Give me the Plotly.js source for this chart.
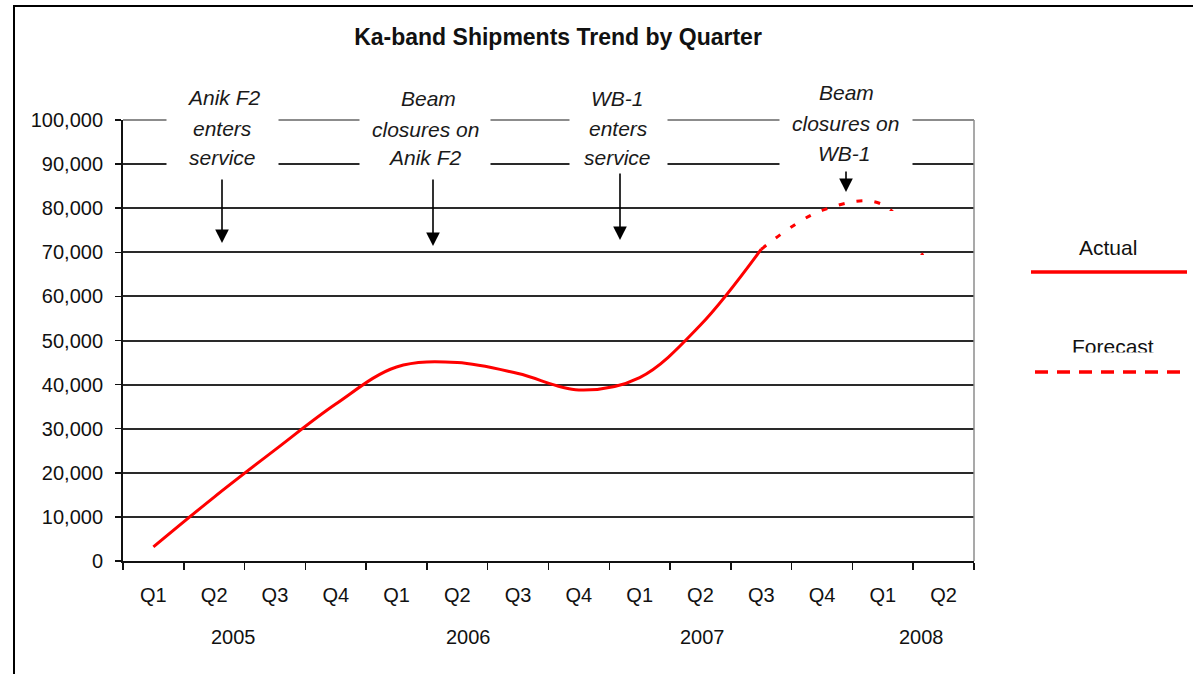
<!DOCTYPE html>
<html>
<head>
<meta charset="utf-8">
<script src="https://cdn.plot.ly/plotly-3.0.1.min.js"></script>
<style>html,body{margin:0;padding:0;background:#fff;}#chart{width:1193px;height:674px;}</style>
</head>
<body>
<div id="chart"></div>
<script>
// ---- data ----
const categories = ["Q1 2005","Q2 2005","Q3 2005","Q4 2005","Q1 2006","Q2 2006","Q3 2006","Q4 2006","Q1 2007","Q2 2007","Q3 2007","Q4 2007","Q1 2008","Q2 2008"];
const quarterLabels = ["Q1","Q2","Q3","Q4","Q1","Q2","Q3","Q4","Q1","Q2","Q3","Q4","Q1","Q2"];
const years = ["2005","2006","2007","2008"];
const actualCats = categories.slice(0, 11);
const actualValues = [3200, 14500, 25200, 35600, 44000, 45000, 42500, 38800, 41600, 53500, 70700];
const forecastCats = categories.slice(10);
const forecastValues = [70700, 79500, 80800, 59500];
const eventNotes = [
  ["Anik F2", "enters", "service"],
  ["Beam", "closures on", "Anik F2"],
  ["WB-1", "enters", "service"],
  ["Beam", "closures on", "WB-1"]
];
const legendNames = ["Actual", "Forecast"];

// ---- layout helpers (pixel -> paper) ----
const W = 1193, H = 674;
const M = {l: 123, r: 219, t: 120, b: 113};
const PW = W - M.l - M.r, PH = H - M.t - M.b;
const px = x => (x - M.l) / PW;
const py = y => (H - M.b - y) / PH;
const FONT = "Liberation Sans, Arial, sans-serif";
const RED = "#ff0000";

const traces = [
  {x: actualCats, y: actualValues, type: "scatter", mode: "lines", name: legendNames[0],
   line: {color: RED, width: 3, shape: "spline", smoothing: 1}, hoverinfo: "x+y"},
  {x: forecastCats, y: forecastValues, type: "scatter", mode: "lines", name: legendNames[1],
   line: {color: RED, width: 3, shape: "spline", smoothing: 1, dash: "6px,12px"}, hoverinfo: "x+y"}
];

const annotations = [];
const noteGeom = [
  {cx: [224, 222.5, 222], w: 111, ys: [97, 128, 157]},
  {cx: [428, 425, 425], w: 130, ys: [99, 129, 158]},
  {cx: [617, 618, 617.5], w: 97, ys: [98, 128, 157]},
  {cx: [846, 845, 844], w: 132, ys: [92, 123, 153]}
];
const gapCenters = [222.5, 425, 618, 846];
eventNotes.forEach((lines, i) => {
  const g = noteGeom[i];
  lines.forEach((t, j) => {
    annotations.push({xref: "paper", yref: "paper", x: px(gapCenters[i]), y: py(g.ys[j]),
      xanchor: "center", yanchor: "middle", text: "", showarrow: false,
      width: g.w, height: 32, bgcolor: "#ffffff", borderpad: 0});
  });
  lines.forEach((t, j) => {
    annotations.push({xref: "paper", yref: "paper", x: px(g.cx[j]), y: py(g.ys[j]),
      xanchor: "center", yanchor: "middle", text: "<i>" + t + "</i>", showarrow: false,
      font: {family: FONT, size: 21, color: "#1a1a1a"}});
  });
});
const arrows = [
  {x: 222, tip: 243, start: 178},
  {x: 433, tip: 246, start: 178},
  {x: 620, tip: 240, start: 172},
  {x: 846, tip: 192, start: 170}
];
arrows.forEach(a => {
  annotations.push({xref: "paper", yref: "paper", x: px(a.x), y: py(a.tip), ax: 0, ay: -(a.tip - a.start),
    text: "", showarrow: true, arrowhead: 2, arrowsize: 1.7, arrowwidth: 1.6, arrowcolor: "#000", standoff: 0});
});
const yearX = [233, 468, 702, 921];
years.forEach((yr, i) => {
  annotations.push({xref: "paper", yref: "paper", x: px(yearX[i]), y: py(637), xanchor: "center", yanchor: "middle",
    text: yr, showarrow: false, font: {family: FONT, size: 20, color: "#111"}});
});
annotations.push({xref: "paper", yref: "paper", x: px(1108), y: py(247), xanchor: "center", yanchor: "middle",
  text: legendNames[0], showarrow: false, font: {family: FONT, size: 21, color: "#111"}});
annotations.push({xref: "paper", yref: "paper", x: px(1113), y: py(346), xanchor: "center", yanchor: "middle",
  text: legendNames[1], showarrow: false, font: {family: FONT, size: 21, color: "#111"}});
annotations.push({xref: "paper", yref: "paper", x: px(1113), y: py(358), xanchor: "center", yanchor: "middle",
  text: "", showarrow: false, width: 110, height: 10, bgcolor: "#ffffff", borderpad: 0});

const shapes = [
  {type: "line", xref: "paper", yref: "paper", x0: px(14), x1: px(14), y0: py(5), y1: py(680), line: {color: "#000", width: 2}},
  {type: "line", xref: "paper", yref: "paper", x0: px(13), x1: px(1200), y0: py(6), y1: py(6), line: {color: "#000", width: 2}},
  {type: "line", xref: "paper", yref: "paper", x0: 0, x1: 1, y0: 1, y1: 1, line: {color: "#8c8c8c", width: 2}, layer: "above"},
  {type: "line", xref: "paper", yref: "paper", x0: 1, x1: 1, y0: 0, y1: 1, line: {color: "#8c8c8c", width: 1.5}, layer: "above"},
  {type: "rect", xref: "paper", yref: "paper", x0: px(860), x1: px(942), y0: py(249), y1: py(211), fillcolor: "#ffffff", line: {width: 0}, layer: "above"},
  {type: "rect", xref: "paper", yref: "paper", x0: px(875), x1: px(958), y0: py(294), y1: py(255), fillcolor: "#ffffff", line: {width: 0}, layer: "above"},
  {type: "line", xref: "paper", yref: "paper", x0: px(1031), x1: px(1187), y0: py(272), y1: py(272), line: {color: RED, width: 3.5}},
  {type: "line", xref: "paper", yref: "paper", x0: px(1035), x1: px(1183), y0: py(372), y1: py(372), line: {color: RED, width: 3.5, dash: "13px,9px"}}
];

const layout = {
  width: W, height: H,
  margin: M,
  paper_bgcolor: "#ffffff", plot_bgcolor: "#ffffff",
  showlegend: false,
  title: {text: "<b>Ka-band Shipments Trend by Quarter</b>", font: {family: FONT, size: 23, color: "#111"},
          x: 558 / W, xanchor: "center", xref: "container", y: 1 - 37 / H, yanchor: "middle", yref: "container"},
  xaxis: {type: "category", categoryorder: "array", categoryarray: categories,
          tickmode: "array", tickvals: categories, ticktext: quarterLabels,
          tickson: "boundaries", ticks: "outside", ticklen: 7, tickwidth: 1.5, tickcolor: "#111",
          showline: true, linecolor: "#111", linewidth: 2, showgrid: false, zeroline: false,
          range: [-0.5, 13.5], ticklabelstandoff: 15,
          tickfont: {family: FONT, size: 20, color: "#111"}},
  yaxis: {range: [0, 100000], tickmode: "linear", tick0: 0, dtick: 10000, tickformat: ",",
          ticks: "outside", ticklen: 6, tickwidth: 1.5, tickcolor: "#111",
          showline: true, linecolor: "#111", linewidth: 2,
          showgrid: true, gridcolor: "#2a2a2a", gridwidth: 2, zeroline: false, ticklabelstandoff: 8,
          tickfont: {family: FONT, size: 20, color: "#111"}},
  annotations: annotations,
  shapes: shapes
};

Plotly.newPlot("chart", traces, layout, {displayModeBar: false, staticPlot: true});
</script>
</body>
</html>
